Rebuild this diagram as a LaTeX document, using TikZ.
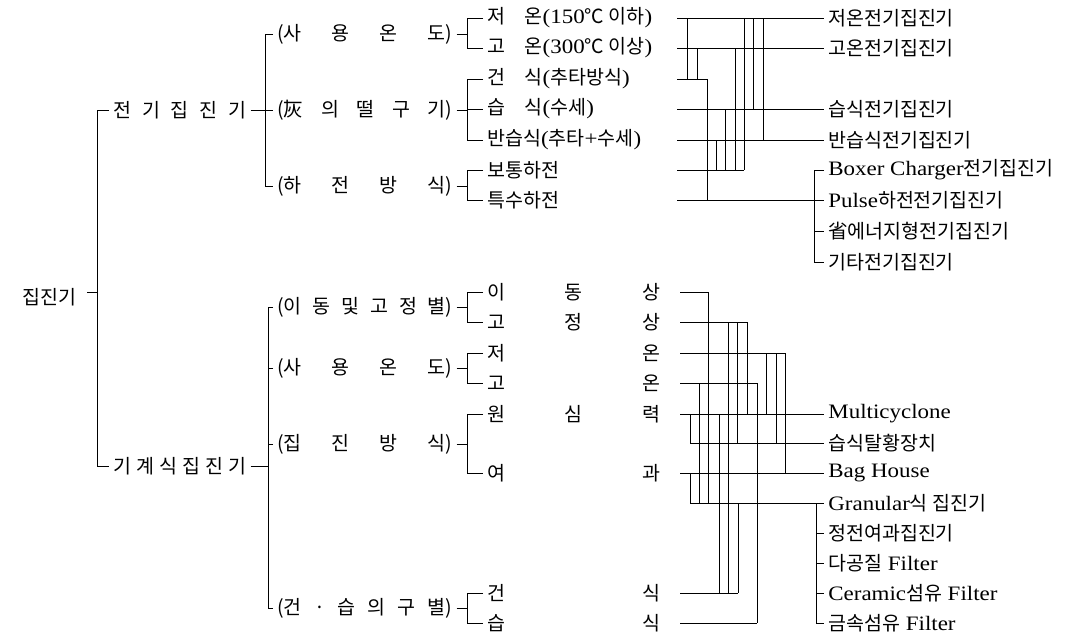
\documentclass[tikz,border=0pt]{standalone}
\usepackage{fontspec}
\setmainfont{Liberation Serif}[FakeStretch=1.12]
\newfontfamily\krfont{Noto Sans CJK KR}
\newcommand\kor[1]{{\krfont\fontsize{19.5}{22}\selectfont #1}}

\begin{document}
\begin{tikzpicture}[
    x=1pt, y=-1pt,
    line width=0.7pt,
    lbl/.style={anchor=west, inner xsep=4pt, inner ysep=0pt, font=\fontsize{20.5}{24}\selectfont}, % all texts
]
    \useasboundingbox (0,0) rectangle (1071,640);

    % bracket columns
    \coordinate (c0) at (97,0);
    \coordinate (c1) at (265,0);
    \coordinate (c2) at (268,0);
    \coordinate (c3) at (467,0);
    \coordinate (s1) at (677,0);
    \coordinate (s2) at (680,0);
    \coordinate (c5) at (814,0);
    \coordinate (c6) at (816,0);

    % first levels
    \node[lbl] (root) at (18,297) {\kor{집진기}};
    \node[lbl] (elec) at (109,110) {\kor{\makebox[133pt]{전\hfill 기\hfill 집\hfill 진\hfill 기}}};
    \node[lbl] (mech) at (109,466) {\kor{\makebox[133pt]{기\hfill 계\hfill 식\hfill 집\hfill 진\hfill 기}}};

    \node[lbl] (etemp) at (273,34) {\kor{\makebox[175pt]{(사\hfill 용\hfill 온\hfill 도)}}};
    \node[lbl] (eash) at (273,110) {\kor{\makebox[175pt]{(灰\hfill 의\hfill 떨\hfill 구\hfill 기)}}};
    \node[lbl] (echg) at (273,186) {\kor{\makebox[175pt]{(하\hfill 전\hfill 방\hfill 식)}}};
    \node[lbl] (mtype) at (273,307) {\kor{\makebox[175pt]{(이\hfill 동\hfill 및\hfill 고\hfill 정\hfill 별)}}};
    \node[lbl] (mtemp) at (273,368) {\kor{\makebox[175pt]{(사\hfill 용\hfill 온\hfill 도)}}};
    \node[lbl] (mmeth) at (273,444) {\kor{\makebox[175pt]{(집\hfill 진\hfill 방\hfill 식)}}};
    \node[lbl] (mwet) at (273,608) {\kor{\makebox[175pt]{(건\hfill ·\hfill 습\hfill 의\hfill 구\hfill 별)}}};

    % third level, electric
    \node[lbl] (lo) at (483,18) {\kor{저\quad 온}(150\kor{℃ 이하})};
    \node[lbl] (hi) at (483,48) {\kor{고\quad 온}(300\kor{℃ 이상})};
    \node[lbl] (dry) at (483,79) {\kor{건\quad 식}(\kor{추타방식})};
    \node[lbl] (wet) at (483,109) {\kor{습\quad 식}(\kor{수세})};
    \node[lbl] (semi) at (483,140) {\kor{반습식}(\kor{추타}+\kor{수세})};
    \node[lbl] (norm) at (483,170) {\kor{보통하전}};
    \node[lbl] (spec) at (483,200) {\kor{특수하전}};

    % third level, mechanical
    \node[lbl] (mov) at (483,292) {\kor{\makebox[173pt]{이\hfill 동\hfill 상}}};
    \node[lbl] (fix) at (483,322) {\kor{\makebox[173pt]{고\hfill 정\hfill 상}}};
    \node[lbl] (mlo) at (483,353) {\kor{\makebox[173pt]{저\hfill 온}}};
    \node[lbl] (mhi) at (483,383) {\kor{\makebox[173pt]{고\hfill 온}}};
    \node[lbl] (cen) at (483,414) {\kor{\makebox[173pt]{원\hfill 심\hfill 력}}};
    \node[lbl] (fil) at (483,473) {\kor{\makebox[173pt]{여\hfill 과}}};
    \node[lbl] (mdry) at (483,593) {\kor{\makebox[173pt]{건\hfill 식}}};
    \node[lbl] (mwet2) at (483,623) {\kor{\makebox[173pt]{습\hfill 식}}};

    % products
    \node[lbl] (p1) at (824,18) {\kor{저온전기집진기}};
    \node[lbl] (p2) at (824,48) {\kor{고온전기집진기}};
    \node[lbl] (p3) at (824,109) {\kor{습식전기집진기}};
    \node[lbl] (p4) at (824,140) {\kor{반습식전기집진기}};
    \node[lbl] (p5) at (824,170) {Boxer Charger\kor{전기집진기}};
    \node[lbl] (p6) at (824,200) {Pulse\kor{하전전기집진기}};
    \node[lbl] (p7) at (824,231) {\kor{省에너지형전기집진기}};
    \node[lbl] (p8) at (824,262) {\kor{기타전기집진기}};

    \node[lbl] (q1) at (824,414) {Multicyclone};
    \node[lbl] (q2) at (824,443) {\kor{습식탈황장치}};
    \node[lbl] (q3) at (824,473) {Bag House};
    \node[lbl] (q4) at (824,503) {Granular\kor{식 집진기}};
    \node[lbl] (q5) at (824,533) {\kor{정전여과집진기}};
    \node[lbl] (q6) at (824,563) {\kor{다공질} Filter};
    \node[lbl] (q7) at (824,593) {Ceramic\kor{섬유} Filter};
    \node[lbl] (q8) at (824,623) {\kor{금속섬유} Filter};

    % tree brackets
    \draw (97,292) -- ++(-10,0);
    \draw (elec.west) -| (c0 |- mech.west) -- (mech.west);
    \draw (etemp.west) -| (c1 |- echg.west) -- (echg.west);
    \draw (elec.east) -- (eash.west);
    \draw (mtype.west) -| (c2 |- mwet.west) -- (mwet.west);
    \foreach \p in {mtemp, mmeth} \draw (\p.west) -- (\p.west -| c2);
    \draw (mech.east) -- (mech.east -| c2);
    \foreach \p/\a/\b in {etemp/lo/hi, eash/dry/semi, echg/norm/spec, mtype/mov/fix,
                          mtemp/mlo/mhi, mmeth/cen/fil, mwet/mdry/mwet2} {
        \draw (\a.west) -| (c3 |- \b.west) -- (\b.west);
        \draw (\p.east) -- (\p.east -| c3);
    }
    \draw (c3 |- wet.west) -- (wet.west);

    % electric combinations
    \foreach \r/\e in {lo/p1, hi/p2, wet/p3, semi/p4, spec/p6}
        \draw (s1 |- \r.west) -- (\e.west);
    \draw (s1 |- dry.west) -- (707,0 |- dry.west);
    \draw (s1 |- norm.west) -- (744,0 |- norm.west);
    \foreach \x/\a/\b in {687/lo/dry, 697/hi/dry, 707/dry/spec, 716/semi/norm, 725/wet/norm,
                          735/hi/norm, 744/lo/norm, 753/lo/wet, 763/lo/semi}
        \draw (\x,0 |- \a.west) -- (\x,0 |- \b.west);
    \draw (p5.west) -| (c5 |- p8.west) -- (p8.west);
    \draw (c5 |- p7.west) -- (p7.west);

    % mechanical combinations
    \foreach \r/\e in {cen/q1, fil/q3}
        \draw (s2 |- \r.west) -- (\e.west);
    \draw (690,0 |- cen.west) |- (q2.west);
    \draw (690,0 |- fil.west) |- (q4.west);
    \foreach \r/\x in {mov/708, fix/747, mlo/785, mhi/757, mdry/738, mwet2/757}
        \draw (s2 |- \r.west) -- (\x,0 |- \r.west);
    \foreach \x/\a/\b in {699/mhi/q4, 708/mov/q4, 719/cen/mdry, 728/fix/mdry, 737/fix/q2,
                          738/q4/mdry, 747/fix/q1, 757/mhi/mwet2, 766/mlo/q1, 776/mlo/q2, 785/mlo/q3}
        \draw (\x,0 |- \a.west) -- (\x,0 |- \b.west);
    \draw (q4.west -| c6) -- (c6 |- q8.west) -- (q8.west);
    \foreach \e in {q5, q6, q7} \draw (c6 |- \e.west) -- (\e.west);

\end{tikzpicture}
\end{document}
